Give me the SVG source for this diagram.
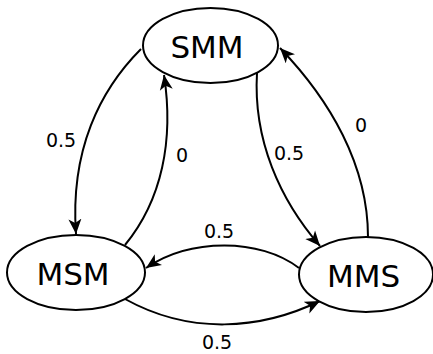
<svg xmlns="http://www.w3.org/2000/svg" width="433" height="354" viewBox="0 0 433 354">
<style>
.node ellipse{fill:#fff;stroke:#000;stroke-width:2}
.node text{font-family:"DejaVu Sans",sans-serif;font-size:31px;text-anchor:middle;fill:#000}
.edge{fill:none;stroke:#000;stroke-width:2;marker-end:url(#arr)}
.lbl{font-family:"DejaVu Sans",sans-serif;font-size:19px;text-anchor:middle;fill:#000}
</style>
<defs>
<marker id="arr" markerUnits="userSpaceOnUse" markerWidth="16" markerHeight="14" refX="15" refY="7" orient="auto">
<path d="M0,0.5 L15,7 L0,13.5 L4,7 z" fill="#000"/>
</marker>
</defs>
<rect width="433" height="354" fill="#fff"/>
<g id="connectors">
<path class="edge" d="M141,49 C100,90 70,150 76,234"/>
<path class="edge" d="M125,245 C162,200 174,140 164,75"/>
<path class="edge" d="M257,73 C253,140 280,200 320,246"/>
<path class="edge" d="M368,237 C368,165 330,100 280,48"/>
<path class="edge" d="M299,268 C260,238 190,238 146,268"/>
<path class="edge" d="M125,299 C190,335 260,330 320,301"/>
<text class="lbl" x="61" y="147">0.5</text>
<text class="lbl" x="182" y="162">0</text>
<text class="lbl" x="289" y="160">0.5</text>
<text class="lbl" x="361" y="132">0</text>
<text class="lbl" x="219" y="238">0.5</text>
<text class="lbl" x="217" y="349">0.5</text>
</g>
<g id="SMM" class="node"><ellipse cx="210.5" cy="45.5" rx="67.5" ry="37.5"/><text x="207" y="58">SMM</text></g>
<g id="MSM" class="node"><ellipse cx="76" cy="272.5" rx="69" ry="37.5"/><text x="73" y="285">MSM</text></g>
<g id="MMS" class="node"><ellipse cx="366" cy="274.5" rx="67" ry="37.5"/><text x="363.5" y="287">MMS</text></g>
</svg>
